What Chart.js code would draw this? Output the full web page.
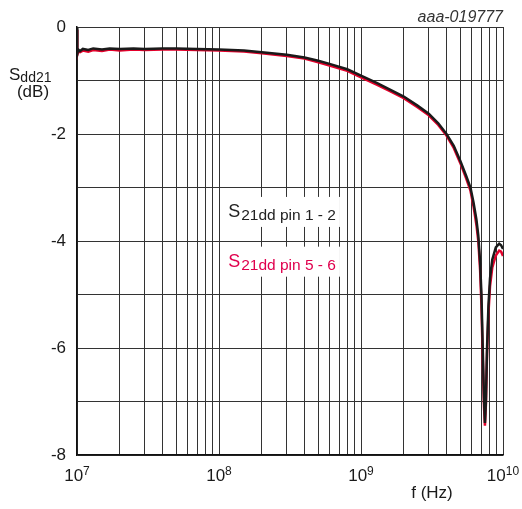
<!DOCTYPE html>
<html>
<head>
<meta charset="utf-8">
<script src="https://cdn.jsdelivr.net/npm/chart.js@4"></script>
<style>
  body { margin: 0; background: #fff; }
  #canvas { display: block; }
</style>
</head>
<body>
<canvas id="canvas" width="522" height="509"></canvas>
<script>
// frequency points (Hz)
const freq = [
  1.0e7, 1.005e7, 1.02e7, 1.05e7, 1.1e7, 1.2e7, 1.3e7, 1.5e7, 1.7e7, 2e7,
  2.5e7, 3e7, 4e7, 5e7, 7e7, 1e8, 1.5e8, 2e8, 3e8, 4e8,
  5e8, 6e8, 8e8, 1e9, 1.3e9, 1.6e9, 2e9, 2.5e9, 3e9, 3.5e9,
  4e9, 4.5e9, 5e9, 5.5e9, 5.9e9, 6.2e9, 6.5e9, 6.7e9, 6.9e9, 7.05e9,
  7.2e9, 7.35e9, 7.46e9, 7.58e9, 7.72e9, 7.9e9, 8.1e9, 8.4e9, 8.9e9, 9.4e9,
  9.7e9, 1e10
];
// S21dd pin 1 - 2 (dB)
const pin12 = [
  -0.02, -0.50, -0.42, -0.45, -0.41, -0.43, -0.40, -0.42, -0.40, -0.41,
  -0.40, -0.41, -0.40, -0.40, -0.41, -0.42, -0.44, -0.47, -0.52, -0.57,
  -0.63, -0.69, -0.79, -0.91, -1.05, -1.17, -1.30, -1.47, -1.62, -1.80,
  -2.00, -2.22, -2.50, -2.78, -3.00, -3.28, -3.60, -3.90, -4.40, -5.00,
  -6.00, -6.95, -7.40, -7.00, -6.00, -5.20, -4.70, -4.35, -4.12, -4.05,
  -4.08, -4.15
];
// S21dd pin 5 - 6 (dB)
const pin56 = [
  -0.05, -0.52, -0.46, -0.47, -0.44, -0.46, -0.43, -0.45, -0.42, -0.44,
  -0.42, -0.43, -0.42, -0.42, -0.43, -0.44, -0.46, -0.49, -0.54, -0.59,
  -0.66, -0.72, -0.82, -0.94, -1.08, -1.20, -1.33, -1.50, -1.65, -1.83,
  -2.03, -2.26, -2.54, -2.83, -3.06, -3.35, -3.70, -4.00, -4.55, -5.20,
  -6.20, -7.10, -7.45, -7.05, -6.10, -5.35, -4.85, -4.50, -4.27, -4.18,
  -4.20, -4.28
];

const yLabels = [0, -2, -4, -6, -8];
const xExps = [7, 8, 9, 10];
const seriesNames = ['pin 1 - 2', 'pin 5 - 6'];
const seriesColors = ['#1a1a1a', '#e4002b'];
const labelColors = ['#222222', '#e0004d'];
const labelPos = [[1.16e8, -3.55], [1.16e8, -4.48]];

const FONT = '"Liberation Sans", Arial, sans-serif';

const textPlugin = {
  id: 'texts',
  beforeDatasetsDraw(chart) {
    const ctx = chart.ctx;
    const xs = chart.scales.x, ys = chart.scales.y;
    ctx.save();
    labelPos.forEach((p, i) => {
      const x = xs.getPixelForValue(p[0]);
      const y = ys.getPixelForValue(p[1]);
      ctx.font = '18px ' + FONT;
      const sw = ctx.measureText('S').width;
      ctx.font = '15.5px ' + FONT;
      const tw = ctx.measureText('21dd ' + seriesNames[i]).width;
      ctx.fillStyle = '#fff';
      ctx.fillRect(x - 3, y - 20, sw + tw + 8, 30);
      ctx.fillStyle = labelColors[i];
      ctx.textBaseline = 'alphabetic';
      ctx.textAlign = 'left';
      ctx.font = '18px ' + FONT;
      ctx.fillText('S', x, y);
      ctx.font = '15.5px ' + FONT;
      ctx.fillText('21dd ' + seriesNames[i], x + sw + 1, y + 3);
    });
    ctx.restore();
  },
  afterDraw(chart) {
    const ctx = chart.ctx;
    const xs = chart.scales.x, ys = chart.scales.y;
    const a = chart.chartArea;
    ctx.save();
    ctx.fillStyle = '#1a1a1a';

    // y tick labels
    ctx.font = '17px ' + FONT;
    ctx.textAlign = 'right';
    ctx.textBaseline = 'middle';
    yLabels.forEach(v => ctx.fillText(String(v), a.left - 11, ys.getPixelForValue(v)));

    // x tick labels, 10 with superscript
    ctx.textAlign = 'left';
    ctx.textBaseline = 'alphabetic';
    xExps.forEach(e => {
      const px = xs.getPixelForValue(Math.pow(10, e));
      ctx.font = '17px ' + FONT;
      const w1 = ctx.measureText('10').width;
      ctx.font = '12px ' + FONT;
      const w2 = ctx.measureText(String(e)).width;
      const x0 = px - (w1 + w2) / 2;
      const base = a.bottom + 25.5;
      ctx.font = '17px ' + FONT;
      ctx.fillText('10', x0, base);
      ctx.font = '12px ' + FONT;
      ctx.fillText(String(e), x0 + w1, base - 6);
    });

    // x title
    ctx.font = '17px ' + FONT;
    ctx.textAlign = 'center';
    ctx.fillText('f (Hz)', a.right - 71, a.bottom + 43);

    // y title
    ctx.textAlign = 'left';
    ctx.font = '17px ' + FONT;
    ctx.fillText('S', 9, 80);
    const sw = ctx.measureText('S').width;
    ctx.font = '14px ' + FONT;
    ctx.fillText('dd21', 9 + sw, 82);
    ctx.font = '17px ' + FONT;
    ctx.textAlign = 'center';
    ctx.fillText('(dB)', 33, 97);

    // figure id
    ctx.font = 'italic 16px ' + FONT;
    ctx.textAlign = 'right';
    ctx.fillStyle = '#333';
    ctx.fillText('aaa-019777', a.right, 21.5);
    ctx.restore();
  }
};

const canvas = document.getElementById('canvas');
new Chart(canvas.getContext('2d'), {
  type: 'line',
  data: {
    datasets: [
      {
        label: 'S21dd ' + seriesNames[1],
        data: freq.map((f, i) => ({ x: f, y: pin56[i] })),
        borderColor: seriesColors[1],
        borderWidth: 2.5,
        pointRadius: 0,
        tension: 0,
        order: 2
      },
      {
        label: 'S21dd ' + seriesNames[0],
        data: freq.map((f, i) => ({ x: f, y: pin12[i] })),
        borderColor: seriesColors[0],
        borderWidth: 2.5,
        pointRadius: 0,
        tension: 0,
        order: 1
      }
    ]
  },
  options: {
    responsive: false,
    animation: false,
    devicePixelRatio: 1,
    layout: { padding: { left: 77, right: 19, top: 27, bottom: 54 } },
    plugins: {
      legend: { display: false },
      title: { display: false },
      tooltip: { enabled: false }
    },
    scales: {
      x: {
        type: 'logarithmic',
        min: 1e7,
        max: 1e10,
        afterBuildTicks(scale) {
          const t = [];
          for (let e = 7; e < 10; e++) {
            for (let m = 1; m < 10; m++) t.push({ value: m * Math.pow(10, e) });
          }
          t.push({ value: 1e10 });
          scale.ticks = t;
        },
        ticks: { display: false },
        grid: { color: '#333', lineWidth: 1, drawTicks: false },
        border: { display: true, color: '#111', width: 1.5 }
      },
      y: {
        min: -8,
        max: 0,
        ticks: { display: false, stepSize: 1 },
        grid: { color: '#333', lineWidth: 1, drawTicks: false },
        border: { display: true, color: '#111', width: 1.5 }
      }
    }
  },
  plugins: [textPlugin]
});
</script>
</body>
</html>
